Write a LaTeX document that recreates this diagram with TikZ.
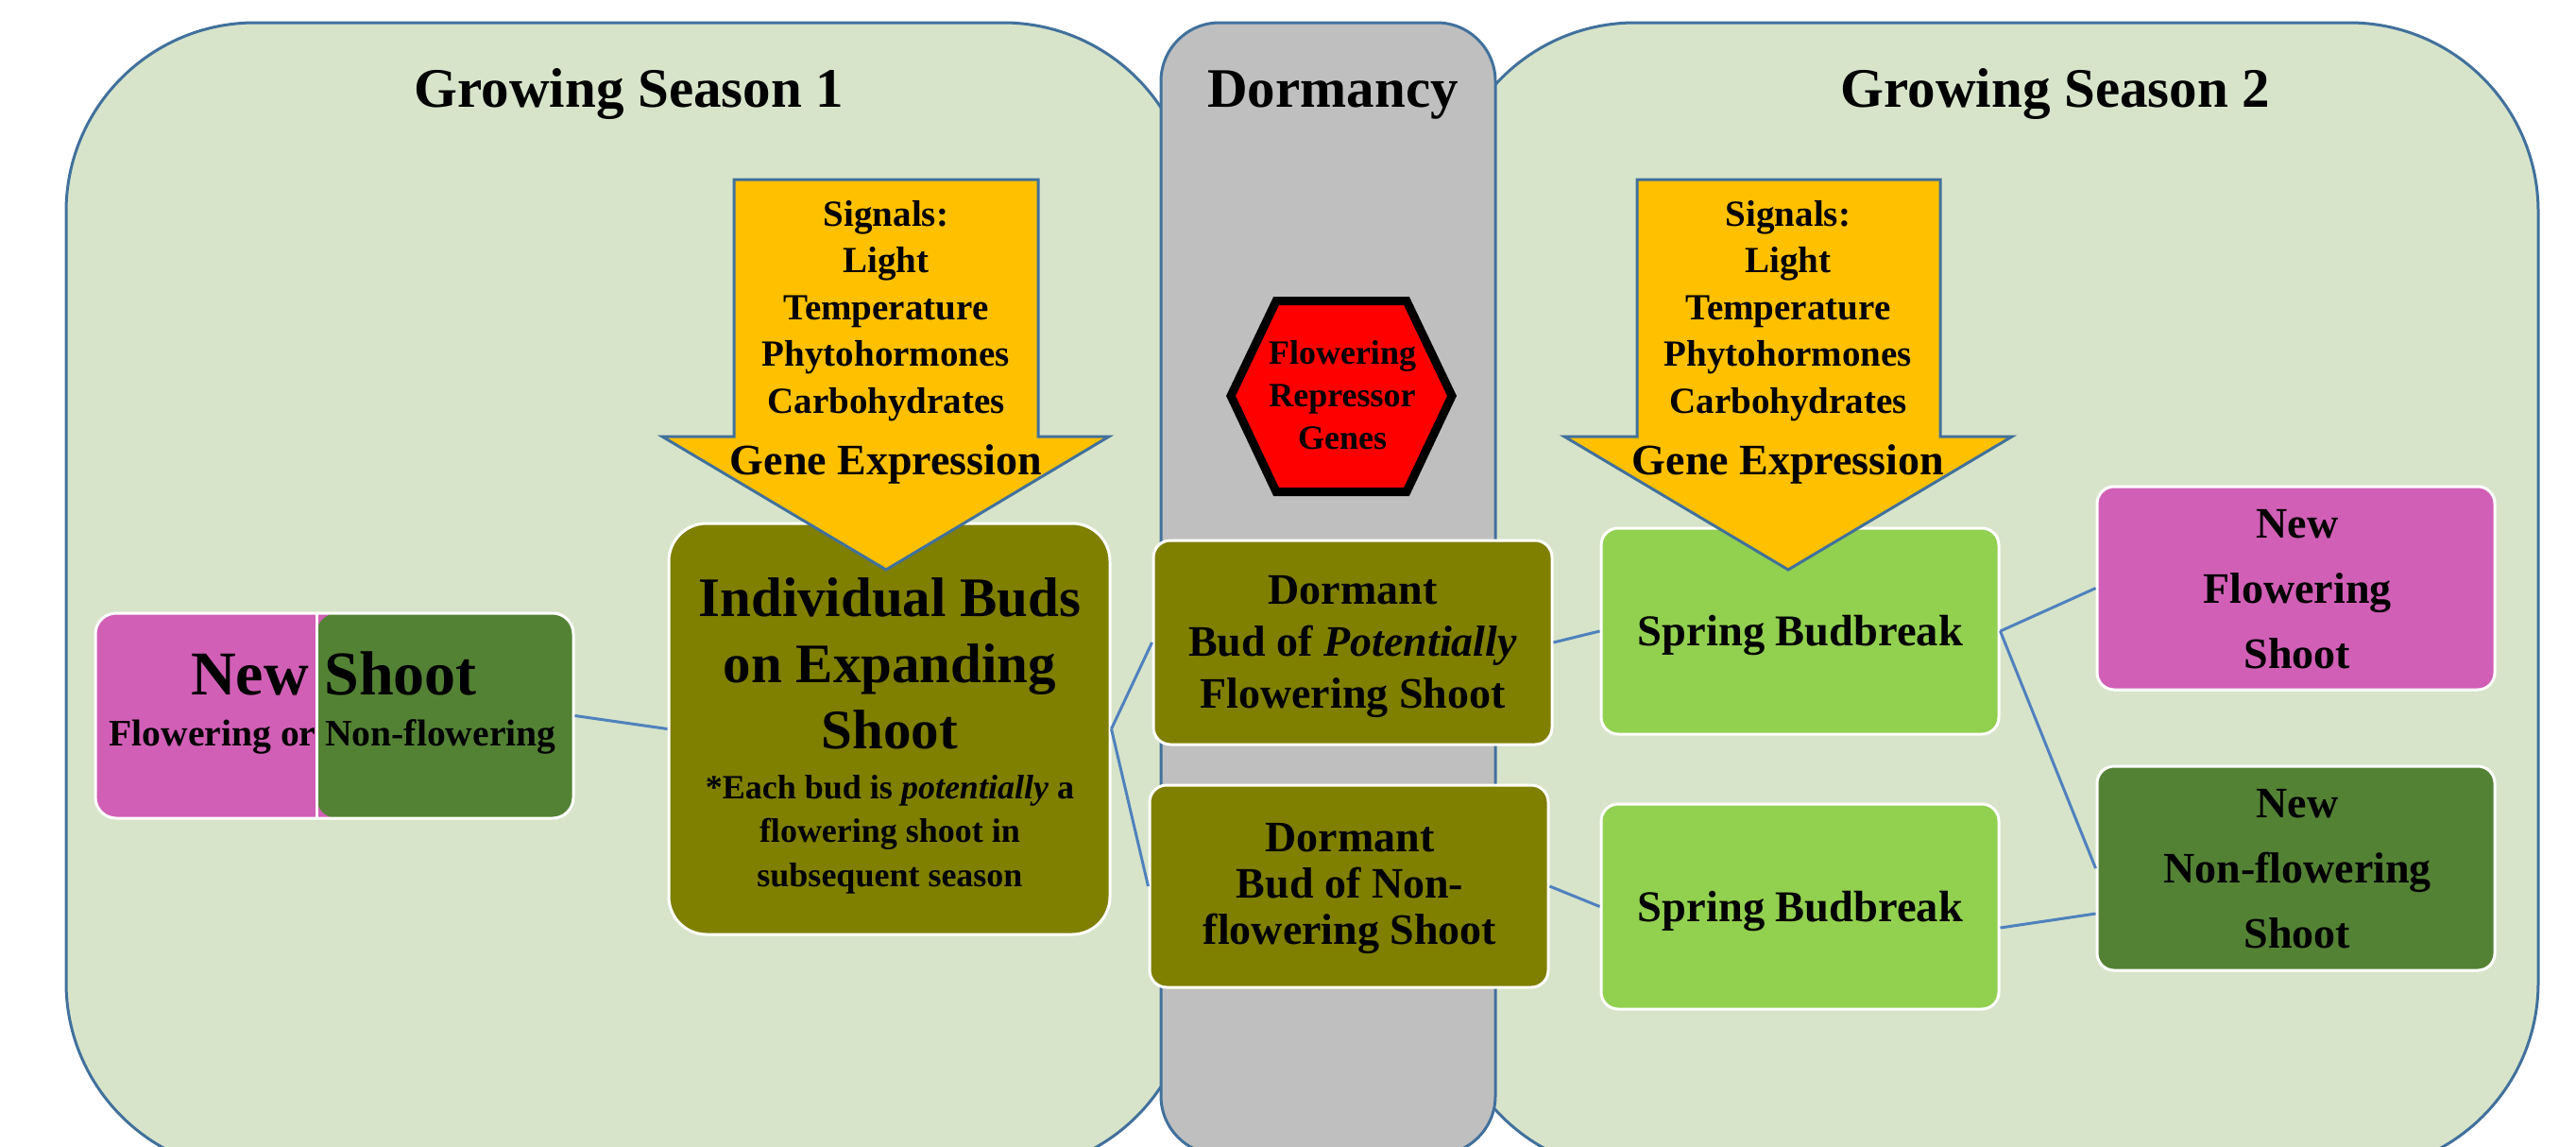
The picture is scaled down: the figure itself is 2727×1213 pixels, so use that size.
\documentclass[tikz,border=0pt]{standalone}
\usepackage{fontspec}
\setmainfont{Liberation Serif}
\definecolor{panelg}{HTML}{D7E4CA}
\definecolor{edgeb}{HTML}{41719C}
\definecolor{connb}{HTML}{4F81BD}
\definecolor{dormg}{HTML}{BFBFBF}
\definecolor{arrowo}{HTML}{FFC000}
\definecolor{olivec}{HTML}{7F7F00}
\definecolor{lgreen}{HTML}{92D050}
\definecolor{pinkc}{HTML}{D15FB6}
\definecolor{dgreen}{HTML}{548235}
\definecolor{redc}{HTML}{FF0000}
\newcommand{\fsz}[2]{\fontsize{#1pt}{#2pt}\selectfont\bfseries}
\begin{document}
\begin{tikzpicture}[x=1pt,y=-1pt,
  panel/.style={draw=edgeb, line width=3pt, fill=panelg, rounded corners=200pt, inner sep=0pt, outer sep=0pt},
  dormpanel/.style={draw=edgeb, line width=3pt, fill=dormg, rounded corners=62pt, inner sep=0pt, outer sep=0pt},
  box/.style={draw=white, line width=3pt, rounded corners=18pt, inner sep=0pt},
  txt/.style={inner sep=0pt, outer sep=0pt, align=center, text=black},
  conn/.style={draw=connb, line width=3pt},
  sigarrow/.style={fill=arrowo, draw=edgeb, line width=3pt, line join=miter},
  hexshape/.style={fill=redc, draw=black, line width=9pt, line join=miter}
]
\useasboundingbox (0,0) rectangle (2727,1213);
\fill[white] (0,0) rectangle (2727,1213);
\clip (0,0) rectangle (2727,1213);

% panels
\node[panel, minimum width=1192pt, minimum height=1216pt] (gs1) at (666,632) {};
\node[panel, minimum width=1156pt, minimum height=1216pt] (gs2) at (2109,632) {};
\node[dormpanel, minimum width=354pt, minimum height=1198pt] (dorm) at (1406,623) {};

% titles
\node[txt, anchor=base, font={\fsz{59}{70}}] (t1) at (666,113) {Growing Season 1};
\node[txt, anchor=base, font={\fsz{59}{70}}] (t2) at (1411,113) {Dormancy};
\node[txt, anchor=base, font={\fsz{59}{70}}] (t3) at (2176,113) {Growing Season 2};

% boxes
\node[box, rounded corners=22pt, fill=pinkc, minimum width=506pt, minimum height=217pt,
  path picture={
    \fill[dgreen] ([xshift=234pt]path picture bounding box.south west) rectangle (path picture bounding box.north east);
    \draw[white, line width=3pt] ([xshift=234pt]path picture bounding box.south west) -- ([xshift=234pt]path picture bounding box.north west);
  }] (shoot) at (354,757.5) {};
\node[box, rounded corners=40pt, fill=olivec, minimum width=467pt, minimum height=435pt] (indiv) at (941.5,771.5) {};
\node[box, fill=olivec, minimum width=422pt, minimum height=216pt] (dpot) at (1432,680) {};
\node[box, fill=olivec, minimum width=422pt, minimum height=214pt] (dnon) at (1428,938) {};
\node[box, fill=lgreen, minimum width=421pt, minimum height=218pt] (sb1) at (1905.5,668) {};
\node[box, fill=lgreen, minimum width=421pt, minimum height=217pt] (sb2) at (1905.5,959.5) {};
\node[box, fill=pinkc, minimum width=421pt, minimum height=215pt] (nfl) at (2430.5,622.5) {};
\node[box, fill=dgreen, minimum width=421pt, minimum height=216pt] (nnf) at (2430.5,919) {};

% connectors
\draw[conn] (shoot.east) -- (indiv.west);
\draw[conn] (indiv.east) -- (dpot.west);
\draw[conn] (indiv.east) -- (dnon.west);
\draw[conn] (dpot.east) -- (sb1.west);
\draw[conn] (dnon.east) -- (sb2.west);
\draw[conn] (sb1.east) -- (nfl.west);
\draw[conn] (sb1.east) -- (nnf.west);
\draw[conn] ([yshift=-22.5pt]sb2.east) -- ([yshift=-48pt]nnf.west);

% signal arrows
\path[sigarrow] (777,190) -- (1099,190) -- (1099,462) -- (1174,462) -- (938,603) -- (701,462) -- (777,462) -- cycle;
\path[sigarrow] (1733,190) -- (2054,190) -- (2054,462) -- (2130,462) -- (1893,603) -- (1656,462) -- (1733,462) -- cycle;
\node[txt, font={\fsz{39}{49.5}}] (sig1) at (938,329) {Signals:\\Light\\Temperature\\Phytohormones\\Carbohydrates};
\node[txt, anchor=base, font={\fsz{46}{55}}] (gene1) at (938,502) {Gene Expression};
\node[txt, font={\fsz{39}{49.5}}] (sig2) at (1893,329) {Signals:\\Light\\Temperature\\Phytohormones\\Carbohydrates};
\node[txt, anchor=base, font={\fsz{46}{55}}] (gene2) at (1893,502) {Gene Expression};

% hexagon
\path[hexshape] (1303,419) -- (1351,318.5) -- (1489,318.5) -- (1537,419) -- (1489,520.5) -- (1351,520.5) -- cycle;
\node[txt, font={\fsz{36}{45}}] (hext) at (1421,418) {Flowering\\Repressor\\Genes};

% box texts
\node[txt, anchor=base, font={\fsz{66}{75}}] (shoottitle) at (353.5,735) {New Shoot};
\node[txt, anchor=base, font={\fsz{39.6}{48}}] (shootsub) at (352,789) {Flowering or Non-flowering};
\node[txt, font={\fsz{59}{70}}] (indivtitle) at (942,702) {Individual Buds\\on Expanding\\Shoot};
\node[txt, font={\fsz{36}{46.5}}] (indivsub) at (942,883) {*Each bud is \textit{potentially} a\\flowering shoot in\\subsequent season};
\node[txt, font={\fsz{46}{55}}] (dpottext) at (1432,685) {Dormant\\Bud of \textit{Potentially}\\Flowering Shoot};
\node[txt, font={\fsz{46}{49}}] (dnontext) at (1429,941) {Dormant\\Bud of Non-\\flowering Shoot};
\node[txt, anchor=base, font={\fsz{46.5}{55}}] (sb1text) at (1906,683) {Spring Budbreak};
\node[txt, anchor=base, font={\fsz{46.5}{55}}] (sb2text) at (1906,975) {Spring Budbreak};
\node[txt, font={\fsz{46}{69}}] (nfltext) at (2432,624) {New\\Flowering\\Shoot};
\node[txt, font={\fsz{46}{69}}] (nnftext) at (2432,920) {New\\Non-flowering\\Shoot};
\end{tikzpicture}
\end{document}
